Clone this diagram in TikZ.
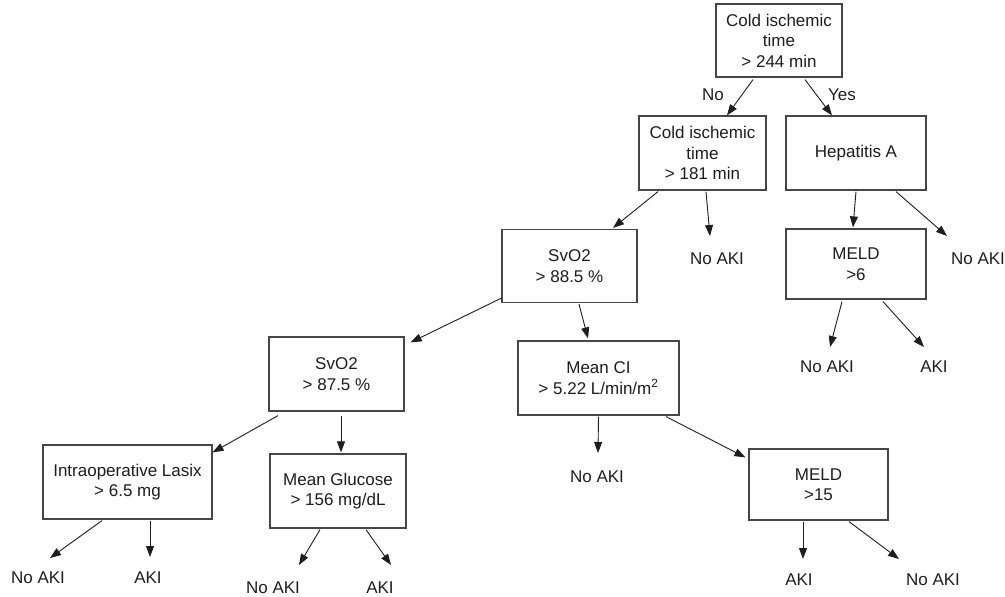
\documentclass[tikz,border=0pt]{standalone}
\usepackage{fontspec}
\setmainfont{Liberation Sans}
\usepackage{xcolor}
\usepackage{tikz}
\usetikzlibrary{positioning,calc,arrows.meta}
\definecolor{TreeInk}{RGB}{30,30,30}
\definecolor{TreeFrame}{RGB}{70,70,70}
\tikzset{
    splitbox/.style={rectangle, draw=TreeFrame, line width=1.2pt, fill=white, align=center, inner sep=0pt, text=TreeInk, font=\fontsize{17}{20.5}\selectfont},
    leafnode/.style={inner sep=0pt, text=TreeInk, font=\fontsize{17}{20.5}\selectfont},
    branch/.style={draw=TreeInk, line width=0.9pt, -{Triangle[length=11pt,width=8pt]}}
}
\begin{document}
\begin{tikzpicture}[x=1pt, y=-1pt]
        % --- KHUNG ---
        \useasboundingbox (0,0) rectangle (1005,597);

        % --- CAC NUT CHIA ---
        \node[splitbox, minimum width=126pt, minimum height=73pt] (root) at (779,40.5) {Cold ischemic\\time\\> 244 min};
        \node[splitbox, minimum width=127pt, minimum height=74pt] (cold) at (702.5,153) {Cold ischemic\\time\\> 181 min};
        \node[splitbox, minimum width=140pt, minimum height=74pt] (hepa) at (856,153) {Hepatitis A};
        \node[splitbox, minimum width=135pt, minimum height=73pt] (svoA) at (569.5,266) {SvO2\\> 88.5 \%};
        \node[splitbox, minimum width=140pt, minimum height=70pt] (meldA) at (856,264) {MELD\\>6};
        \node[splitbox, minimum width=135pt, minimum height=74pt] (svoB) at (336.5,374) {SvO2\\> 87.5 \%};
        \node[splitbox, minimum width=161pt, minimum height=74pt] (meanci) at (598.5,378) {Mean CI\\> 5.22 L/min/m\textsuperscript{2}};
        \node[splitbox, minimum width=169pt, minimum height=74pt] (lasix) at (127.5,482) {Intraoperative Lasix\\> 6.5 mg};
        \node[splitbox, minimum width=136pt, minimum height=74pt] (gluc) at (338,491) {Mean Glucose\\> 156 mg/dL};
        \node[splitbox, minimum width=139pt, minimum height=71pt] (meldB) at (818.5,484.5) {MELD\\>15};

        % --- CAC LA ---
        \node[leafnode] (leafA) at (717,259) {No AKI};
        \node[leafnode] (leafB) at (978,259) {No AKI};
        \node[leafnode] (leafC) at (827,367) {No AKI};
        \node[leafnode] (leafD) at (934,367) {AKI};
        \node[leafnode] (leafE) at (597,477) {No AKI};
        \node[leafnode] (leafF) at (38,578) {No AKI};
        \node[leafnode] (leafG) at (148,578) {AKI};
        \node[leafnode] (leafH) at (273,588) {No AKI};
        \node[leafnode] (leafI) at (380,588) {AKI};
        \node[leafnode] (leafJ) at (799,580) {AKI};
        \node[leafnode] (leafK) at (933,580) {No AKI};

        % --- NHAN NHANH ---
        \node[leafnode] (no) at (713,95) {No};
        \node[leafnode] (yes) at (842,95) {Yes};

        % --- MUI TEN ---
        \draw[branch] ($(root.south)+(-26,2)$) -- ($(cold.north)+(24.5,0)$);
        \draw[branch] ($(root.south)+(26,2)$) -- ($(hepa.north)+(-24,0)$);
        \draw[branch] ($(cold.south)+(-44.5,1)$) -- ($(svoA.north)+(43.5,-1)$);
        \draw[branch] ($(cold.south)+(3.5,1)$) -- ($(leafA)+(-7,-23)$);
        \draw[branch] ($(hepa.south)+(0,1)$) -- ($(meldA.north)+(-3,-1)$);
        \draw[branch] ($(hepa.south)+(40,1)$) -- ($(leafB)+(-31,-23)$);
        \draw[branch] ($(svoA.south west)+(0,-5)$) -- ($(svoB.north east)+(6,6)$);
        \draw[branch] ($(svoA.south)+(9.5,1)$) -- ($(meanci.north)+(-10.5,-2)$);
        \draw[branch] ($(meldA.south)+(-14,2)$) -- ($(leafC)+(3,-20)$);
        \draw[branch] ($(meldA.south)+(27,2)$) -- ($(leafD)+(-10,-20)$);
        \draw[branch] ($(svoB.south)+(-58.5,4)$) -- ($(lasix.north east)+(0,8)$);
        \draw[branch] ($(svoB.south)+(4.5,4)$) -- ($(gluc.north)+(3,-1)$);
        \draw[branch] ($(meanci.south)+(0,1)$) -- ($(leafE)+(1,-24)$);
        \draw[branch] ($(meanci.south)+(67.5,1)$) -- ($(meldB.north west)+(-3,9)$);
        \draw[branch] ($(lasix.south)+(-25.5,1)$) -- ($(leafF)+(12,-20)$);
        \draw[branch] ($(lasix.south)+(22.5,1)$) -- ($(leafG)+(2,-21)$);
        \draw[branch] ($(gluc.south)+(-18,1)$) -- ($(leafH)+(26,-23)$);
        \draw[branch] ($(gluc.south)+(28,1)$) -- ($(leafI)+(11,-23)$);
        \draw[branch] ($(meldB.south)+(-15.5,1)$) -- ($(leafJ)+(4,-21)$);
        \draw[branch] ($(meldB.south)+(30.5,1)$) -- ($(leafK)+(-34,-21)$);

    \end{tikzpicture}
\end{document}
